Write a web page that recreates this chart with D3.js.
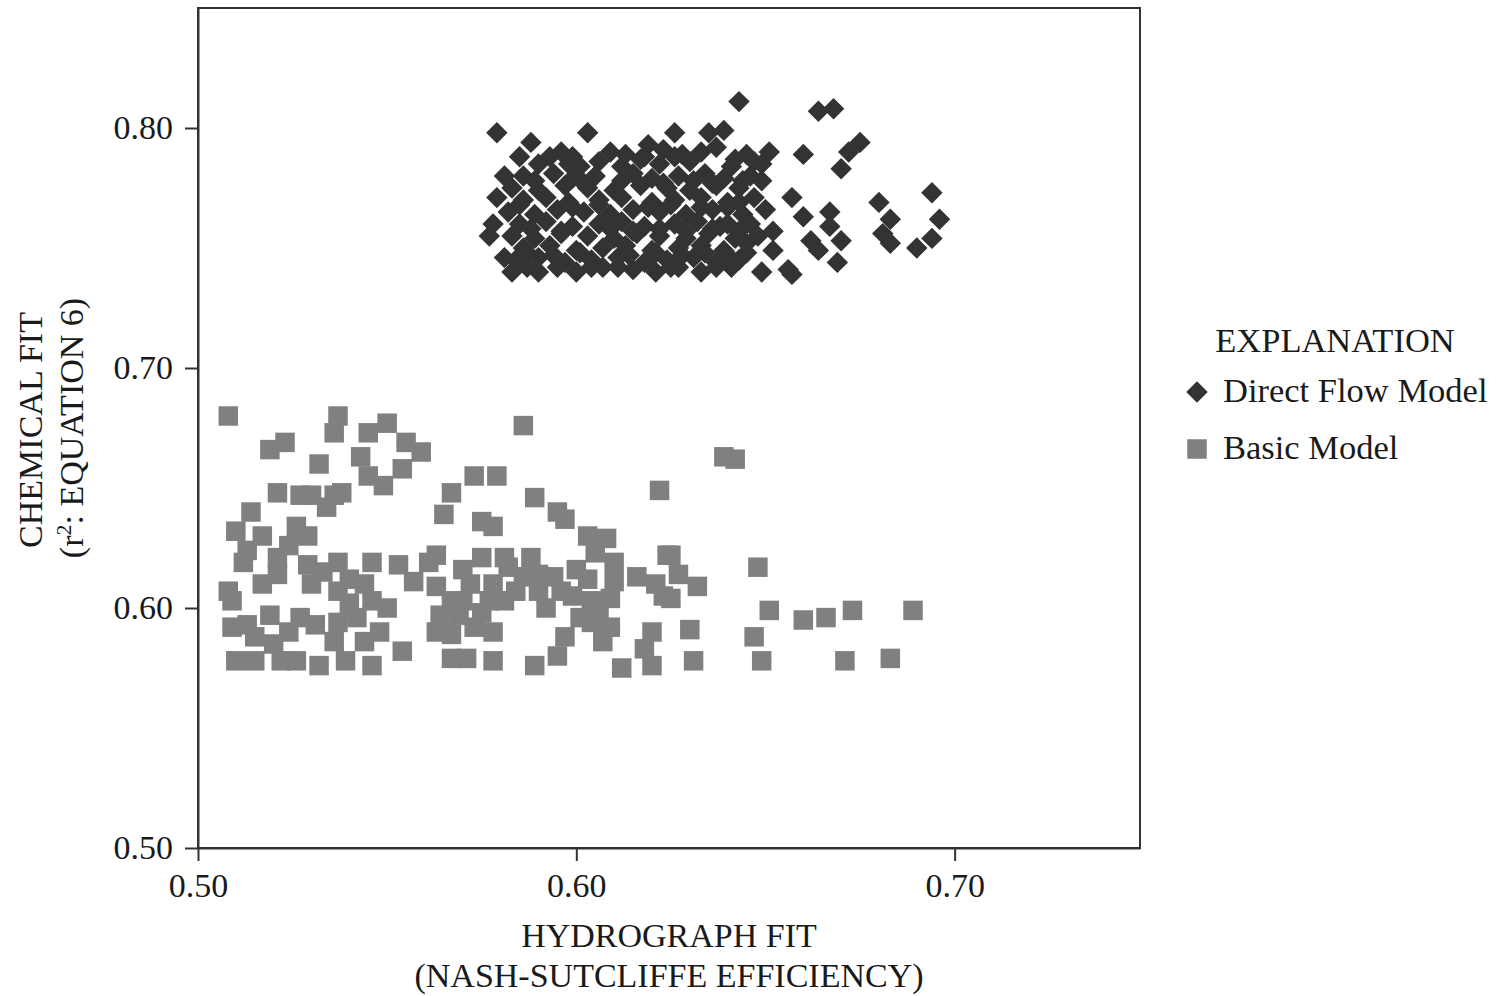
<!DOCTYPE html>
<html>
<head>
<meta charset="utf-8">
<script src="https://cdn.jsdelivr.net/npm/d3@7"></script>
<style>
    body { margin: 0; background: #ffffff; }
    svg text { font-family: "Liberation Serif", "Times New Roman", serif; fill: #1a1a1a; }
</style>
</head>
<body>
<div id="scatter_chart"></div>
<script>

// Axis ticks
const xTicks = [0.50, 0.60, 0.70];
const yTicks = [0.50, 0.60, 0.70, 0.80];

// Direct Flow Model points [hydrograph fit, chemical fit]
const directFlowModel = [
    [0.579, 0.798], [0.603, 0.798], [0.626, 0.798], [0.588, 0.794], [0.593, 0.788], [0.609, 0.790],
    [0.598, 0.785], [0.619, 0.793], [0.618, 0.788], [0.635, 0.798], [0.643, 0.811], [0.585, 0.788],
    [0.581, 0.780], [0.579, 0.771], [0.578, 0.760], [0.577, 0.755], [0.581, 0.746], [0.583, 0.740],
    [0.590, 0.740], [0.595, 0.742], [0.600, 0.740], [0.607, 0.742], [0.615, 0.741], [0.621, 0.740],
    [0.627, 0.742], [0.633, 0.740], [0.664, 0.807], [0.668, 0.808], [0.660, 0.789], [0.675, 0.794],
    [0.672, 0.790], [0.670, 0.783], [0.639, 0.799], [0.651, 0.790], [0.649, 0.785], [0.649, 0.778],
    [0.643, 0.775], [0.657, 0.771], [0.660, 0.763], [0.667, 0.765], [0.667, 0.759], [0.662, 0.753],
    [0.664, 0.749], [0.670, 0.753], [0.669, 0.744], [0.680, 0.769], [0.683, 0.762], [0.681, 0.756],
    [0.683, 0.752], [0.694, 0.773], [0.696, 0.762], [0.694, 0.754], [0.690, 0.750], [0.652, 0.757],
    [0.652, 0.749], [0.649, 0.740], [0.656, 0.741], [0.657, 0.739], [0.645, 0.748], [0.641, 0.742],
    [0.640, 0.760],
    // dense core
    [0.596, 0.790], [0.613, 0.789], [0.623, 0.791], [0.628, 0.789], [0.633, 0.790], [0.637, 0.792], [0.645, 0.789],
    [0.590, 0.785], [0.601, 0.784], [0.606, 0.786], [0.612, 0.784], [0.622, 0.785], [0.630, 0.786], [0.641, 0.784], [0.647, 0.786],
    [0.586, 0.780], [0.594, 0.781], [0.599, 0.779], [0.605, 0.780], [0.615, 0.781], [0.620, 0.779], [0.627, 0.780], [0.634, 0.781], [0.639, 0.779], [0.646, 0.780],
    [0.583, 0.775], [0.590, 0.774], [0.597, 0.776], [0.603, 0.775], [0.610, 0.774], [0.617, 0.776], [0.624, 0.775], [0.630, 0.774], [0.637, 0.776], [0.643, 0.769],
    [0.586, 0.770], [0.592, 0.771], [0.598, 0.769], [0.606, 0.770], [0.612, 0.771], [0.620, 0.769], [0.626, 0.770], [0.633, 0.771], [0.640, 0.769], [0.647, 0.771],
    [0.582, 0.765], [0.589, 0.764], [0.595, 0.766], [0.602, 0.765], [0.609, 0.764], [0.615, 0.766], [0.622, 0.765], [0.629, 0.764], [0.636, 0.766], [0.644, 0.764], [0.650, 0.766],
    [0.585, 0.760], [0.592, 0.761], [0.599, 0.759], [0.606, 0.760], [0.612, 0.761], [0.618, 0.759], [0.626, 0.760], [0.632, 0.761], [0.638, 0.759], [0.646, 0.760],
    [0.583, 0.755], [0.589, 0.754], [0.596, 0.756], [0.603, 0.755], [0.610, 0.754], [0.616, 0.756], [0.622, 0.755], [0.629, 0.754], [0.635, 0.756], [0.642, 0.754], [0.648, 0.755],
    [0.586, 0.750], [0.593, 0.751], [0.600, 0.749], [0.607, 0.750], [0.613, 0.751], [0.620, 0.749], [0.627, 0.750], [0.633, 0.751], [0.639, 0.749], [0.645, 0.752],
    [0.584, 0.745], [0.590, 0.746], [0.597, 0.744], [0.604, 0.745], [0.611, 0.746], [0.618, 0.744], [0.624, 0.745], [0.631, 0.746], [0.637, 0.744], [0.643, 0.745],
    [0.599, 0.788], [0.617, 0.787], [0.626, 0.788], [0.642, 0.787],
    [0.589, 0.778], [0.602, 0.777], [0.612, 0.778], [0.623, 0.777], [0.631, 0.778], [0.636, 0.777], [0.644, 0.778],
    [0.585, 0.768], [0.599, 0.767], [0.606, 0.768], [0.619, 0.767], [0.625, 0.768], [0.633, 0.767], [0.640, 0.767],
    [0.588, 0.758], [0.596, 0.757], [0.609, 0.758], [0.615, 0.757], [0.622, 0.758], [0.629, 0.757], [0.636, 0.758], [0.643, 0.757],
    [0.587, 0.748], [0.594, 0.747], [0.601, 0.748], [0.614, 0.747], [0.621, 0.748], [0.628, 0.747], [0.634, 0.748], [0.640, 0.747],
    [0.587, 0.742], [0.604, 0.742], [0.611, 0.742], [0.625, 0.742], [0.637, 0.742]
];

// Basic Model points [hydrograph fit, chemical fit]
const basicModel = [
    [0.508, 0.680], [0.537, 0.680], [0.536, 0.673], [0.545, 0.673], [0.550, 0.677], [0.555, 0.669],
    [0.559, 0.665], [0.523, 0.669], [0.519, 0.666], [0.532, 0.660], [0.543, 0.663], [0.554, 0.658],
    [0.545, 0.655], [0.549, 0.651], [0.521, 0.648], [0.527, 0.647], [0.530, 0.647], [0.536, 0.647],
    [0.534, 0.642], [0.538, 0.648], [0.514, 0.640], [0.510, 0.632], [0.517, 0.630], [0.526, 0.634],
    [0.529, 0.630], [0.512, 0.619], [0.521, 0.621], [0.521, 0.614], [0.529, 0.618], [0.537, 0.619],
    [0.530, 0.610], [0.508, 0.607], [0.509, 0.603], [0.517, 0.610], [0.537, 0.607], [0.544, 0.610],
    [0.546, 0.619], [0.553, 0.618], [0.546, 0.603], [0.550, 0.600], [0.561, 0.619], [0.557, 0.611],
    [0.509, 0.592], [0.513, 0.593], [0.519, 0.597], [0.527, 0.596], [0.531, 0.593], [0.537, 0.594],
    [0.536, 0.586], [0.544, 0.586], [0.548, 0.590], [0.510, 0.578], [0.515, 0.578], [0.522, 0.578],
    [0.526, 0.578], [0.532, 0.576], [0.539, 0.578], [0.546, 0.576], [0.554, 0.582], [0.515, 0.588],
    [0.586, 0.676], [0.573, 0.655], [0.579, 0.655], [0.567, 0.648], [0.565, 0.639], [0.575, 0.636],
    [0.578, 0.634], [0.589, 0.646], [0.595, 0.640], [0.597, 0.637], [0.622, 0.649], [0.563, 0.622],
    [0.575, 0.621], [0.581, 0.621], [0.588, 0.621], [0.586, 0.613], [0.582, 0.617], [0.572, 0.610],
    [0.578, 0.610], [0.581, 0.603], [0.567, 0.603], [0.564, 0.597], [0.569, 0.597], [0.575, 0.598],
    [0.573, 0.592], [0.567, 0.589], [0.567, 0.579], [0.571, 0.579], [0.578, 0.578], [0.594, 0.613],
    [0.592, 0.600], [0.600, 0.616], [0.599, 0.605], [0.605, 0.623], [0.608, 0.629], [0.610, 0.619],
    [0.610, 0.611], [0.604, 0.603], [0.604, 0.594], [0.609, 0.604], [0.609, 0.592], [0.616, 0.613],
    [0.621, 0.610], [0.623, 0.605], [0.597, 0.588], [0.595, 0.580], [0.589, 0.576], [0.612, 0.575],
    [0.618, 0.583], [0.620, 0.590], [0.620, 0.576], [0.624, 0.622], [0.639, 0.663], [0.642, 0.662],
    [0.625, 0.622], [0.627, 0.614], [0.632, 0.609], [0.625, 0.604], [0.630, 0.591], [0.631, 0.578],
    [0.648, 0.617], [0.651, 0.599], [0.647, 0.588], [0.649, 0.578], [0.660, 0.595], [0.666, 0.596],
    [0.673, 0.599], [0.689, 0.599], [0.671, 0.578], [0.683, 0.579],
    [0.513, 0.624], [0.524, 0.626], [0.533, 0.615], [0.540, 0.602], [0.540, 0.612], [0.524, 0.590],
    [0.542, 0.596], [0.520, 0.585], [0.570, 0.616], [0.563, 0.609], [0.570, 0.603], [0.577, 0.603],
    [0.563, 0.590], [0.578, 0.590], [0.584, 0.607], [0.603, 0.612], [0.606, 0.598], [0.601, 0.596],
    [0.607, 0.586], [0.603, 0.630], [0.590, 0.614], [0.596, 0.607], [0.590, 0.607]
];

const legendLabels = ["Direct Flow Model", "Basic Model"];
const markerColors = ["#333333", "#808080"];

function drawScatter()
{
    // Chart dimensions
    const margin = { top: 8, right: 367, bottom: 148, left: 198 };
    const width = 1507 - margin.left - margin.right;
    const height = 996 - margin.top - margin.bottom;

    const svg = d3.select("#scatter_chart")
        .append("svg")
        .attr("width", 1507)
        .attr("height", 996)
        .append("g")
        .attr("transform", `translate(${margin.left},${margin.top})`);

    // Scales
    const x = d3.scaleLinear()
        .domain([0.5, 0.749])
        .range([0, width]);

    const y = d3.scaleLinear()
        .domain([0.5, 0.85])
        .range([height, 0]);

    // Frame around the plot
    svg.append("rect")
        .attr("x", 0)
        .attr("y", 0)
        .attr("width", width)
        .attr("height", height)
        .attr("fill", "none")
        .attr("stroke", "#333")
        .attr("stroke-width", 2);

    // Basic Model squares
    const square = d3.symbol().type(d3.symbolSquare).size(380);
    svg.append("g")
        .selectAll("path")
        .data(basicModel)
        .enter().append("path")
        .attr("d", square)
        .attr("transform", d => `translate(${x(d[0])},${y(d[1])})`)
        .attr("fill", markerColors[1]);

    // Direct Flow Model diamonds (square turned 45 degrees)
    const diamond = d3.symbol().type(d3.symbolSquare).size(230);
    svg.append("g")
        .selectAll("path")
        .data(directFlowModel)
        .enter().append("path")
        .attr("d", diamond)
        .attr("transform", d => `translate(${x(d[0])},${y(d[1])}) rotate(45)`)
        .attr("fill", markerColors[0]);

    // X axis
    const xAxis = svg.append("g")
        .attr("transform", `translate(0,${height})`)
        .call(d3.axisBottom(x).tickValues(xTicks).tickFormat(d3.format(".2f")).tickSize(13).tickPadding(12).tickSizeOuter(0));

    // Y axis
    const yAxis = svg.append("g")
        .call(d3.axisLeft(y).tickValues(yTicks).tickFormat(d3.format(".2f")).tickSize(13).tickPadding(12).tickSizeOuter(0));

    [xAxis, yAxis].forEach(ax => {
        ax.select(".domain").attr("stroke", "#333").attr("stroke-width", 2);
        ax.selectAll(".tick line").attr("stroke", "#333").attr("stroke-width", 2);
        ax.selectAll(".tick text")
            .style("font-family", "'Liberation Serif', serif")
            .style("font-size", "34px")
            .attr("fill", "#1a1a1a");
    });

    // X axis title
    svg.append("text")
        .attr("x", width / 2)
        .attr("y", 947 - margin.top)
        .attr("text-anchor", "middle")
        .style("font-size", "34px")
        .text("HYDROGRAPH FIT");

    svg.append("text")
        .attr("x", width / 2)
        .attr("y", 987 - margin.top)
        .attr("text-anchor", "middle")
        .style("font-size", "34px")
        .text("(NASH-SUTCLIFFE EFFICIENCY)");

    // Y axis title (two rotated lines)
    svg.append("text")
        .attr("transform", `translate(${42 - margin.left},${height / 2 + 2}) rotate(-90)`)
        .attr("text-anchor", "middle")
        .style("font-size", "34px")
        .text("CHEMICAL FIT");

    const yTitle2 = svg.append("text")
        .attr("transform", `translate(${83 - margin.left},${height / 2}) rotate(-90)`)
        .attr("text-anchor", "middle")
        .style("font-size", "34px");
    yTitle2.append("tspan").text("(r");
    yTitle2.append("tspan").attr("dy", "-0.55em").style("font-size", "22px").text("2");
    yTitle2.append("tspan").attr("dy", "0.37em").text(": EQUATION 6)");

    // Legend
    const legend = svg.append("g")
        .attr("transform", `translate(${width},0)`);

    legend.append("text")
        .attr("x", 195)
        .attr("y", 352 - margin.top)
        .attr("text-anchor", "middle")
        .style("font-size", "34.5px")
        .text("EXPLANATION");

    const legendY = [392, 449];
    const legendShapes = [
        { d: diamond, rot: 45 },
        { d: square, rot: 0 }
    ];

    legendLabels.forEach((label, i) => {
        legend.append("path")
            .attr("d", legendShapes[i].d)
            .attr("transform", `translate(57,${legendY[i] - margin.top}) rotate(${legendShapes[i].rot})`)
            .attr("fill", markerColors[i]);

        legend.append("text")
            .attr("x", 83)
            .attr("y", legendY[i] - margin.top + 10)
            .style("font-size", "34.5px")
            .text(label);
    });
}

drawScatter();

</script>
</body>
</html>
